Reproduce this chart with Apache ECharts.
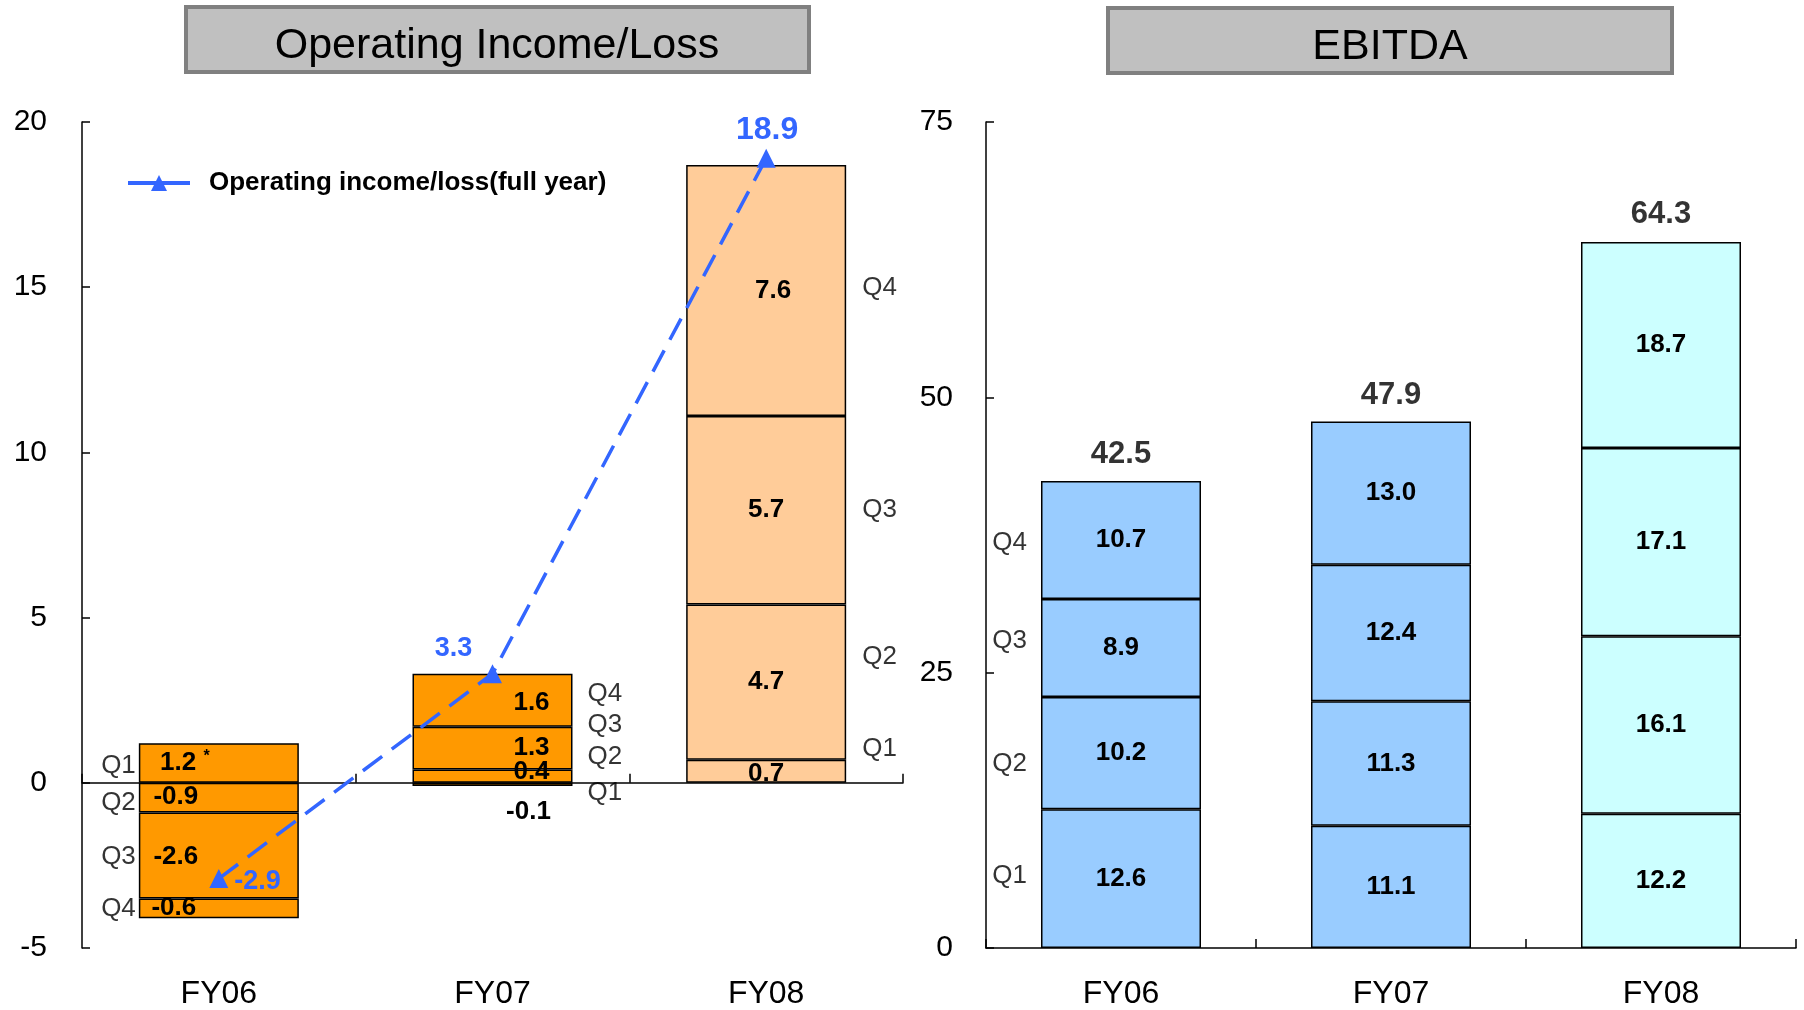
<!DOCTYPE html>
<html>
<head>
<meta charset="utf-8">
<title>Operating Income/Loss and EBITDA</title>
<script src="https://cdn.jsdelivr.net/npm/echarts@6/dist/echarts.min.js"></script>
<style>
  html, body { margin: 0; padding: 0; background: #ffffff; }
  #chart { width: 1804px; height: 1010px; }
</style>
</head>
<body>
<div id="chart"></div>
<script>
// ---- data ----
const years = ['FY06', 'FY07', 'FY08'];
const quarters = ['Q1', 'Q2', 'Q3', 'Q4'];

// Operating income/loss per quarter
const opQ1 = [1.2, -0.1, 0.7];
const opQ2 = [-0.9, 0.4, 4.7];
const opQ3 = [-2.6, 1.3, 5.7];
const opQ4 = [-0.6, 1.6, 7.6];
const opFullYear = [-2.9, 3.3, 18.9];

// EBITDA per quarter
const ebQ1 = [12.6, 11.1, 12.2];
const ebQ2 = [10.2, 11.3, 16.1];
const ebQ3 = [8.9, 12.4, 17.1];
const ebQ4 = [10.7, 13.0, 18.7];
const ebTotal = [42.5, 47.9, 64.3];

// axis scales
const opAxis = { min: -5, max: 20, interval: 5 };
const ebAxis = { min: 0, max: 75, interval: 25 };

// ---- styling ----
const FONT = '"Liberation Sans", Arial, Helvetica, sans-serif';
const opColors = ['#FF9900', '#FF9900', '#FFCC99'];
const ebColors = ['#99CCFF', '#99CCFF', '#CCFFFF'];
const lineBlue = '#3366FF';

// pixel nudges for the value labels inside the operating bars [dx, dy] by quarter, then year
const opLabelNudge = [
  [[-34, 0], [36, 27], [0, 3]],
  [[-43, -1], [39, -4], [0, 0]],
  [[-43, 1], [39, 0], [0, 0]],
  [[-45, -1], [39, 3], [7, 0]]
];
// vertical nudges for the quarter name tags, by year then quarter
const opTagNudge = [[3, 5, 1, 0], [8, -19, -23, -6], [-22, -25, 0, -3]];
const ebTagNudge = [-3, 11, -7, 3];
const opTagSide = ['left', 'right', 'right'];
const opTagDist = [83, 95, 96];

// placement of the full-year value tags
const fullYearLabelStyle = [
  { position: 'right', distance: 6, offset: [0, 3], fontSize: 27 },
  { position: 'top', distance: 2, offset: [-39, 0], fontSize: 27 },
  { position: 'top', distance: 3, offset: [1, 0], fontSize: 32 }
];

// mid-point of every stacked segment, stacking positives and negatives apart
function stackMids(list) {
  const pos = years.map(() => 0), neg = years.map(() => 0);
  return list.map(vals => vals.map((v, i) => {
    let lo, hi;
    if (v >= 0) { lo = pos[i]; hi = lo + v; pos[i] = hi; }
    else { hi = neg[i]; lo = hi + v; neg[i] = lo; }
    return (lo + hi) / 2;
  }));
}

const opSeriesVals = [opQ1, opQ2, opQ3, opQ4];
const ebSeriesVals = [ebQ1, ebQ2, ebQ3, ebQ4];
const opMids = stackMids(opSeriesVals);
const ebMids = stackMids(ebSeriesVals);

const fmt1 = v => Number(v).toFixed(1);

const series = [];

// operating income/loss stacked bars
opSeriesVals.forEach((vals, q) => {
  series.push({
    type: 'bar',
    name: quarters[q] + ' op',
    stack: 'op',
    xAxisIndex: 0,
    yAxisIndex: 0,
    barWidth: 160,
    data: vals.map((v, i) => ({
      value: v,
      itemStyle: { color: opColors[i] },
      label: {
        offset: opLabelNudge[q][i],
        formatter: (q === 0 && i === 0) ? (p => fmt1(p.value) + ' {s|*}') : (p => fmt1(p.value))
      }
    })),
    itemStyle: { borderColor: '#000', borderWidth: 1.5 },
    label: {
      show: true,
      position: 'inside',
      color: '#000',
      fontFamily: FONT,
      fontSize: 26,
      fontWeight: 'bold',
      rich: { s: { fontSize: 16, fontFamily: FONT, color: '#000', verticalAlign: 'top', padding: [0, 0, 12, 0] } }
    },
    emphasis: { disabled: true },
    z: 2
  });
});

// full-year line
series.push({
  type: 'line',
  name: 'Operating income/loss(full year)',
  xAxisIndex: 0,
  yAxisIndex: 0,
  data: opFullYear.map((v, i) => ({ value: v, label: fullYearLabelStyle[i] })),
  symbol: 'triangle',
  symbolSize: 19,
  itemStyle: { color: lineBlue },
  lineStyle: { color: lineBlue, width: 3.5, type: [24, 12] },
  label: {
    show: true,
    color: lineBlue,
    fontFamily: FONT,
    fontSize: 32,
    fontWeight: 'bold',
    formatter: p => fmt1(p.value)
  },
  emphasis: { disabled: true },
  z: 5
});

// quarter tags beside the operating bars
const opTagData = [];
years.forEach((y, i) => {
  quarters.forEach((qn, q) => {
    opTagData.push({
      value: [i, opMids[q][i]],
      name: qn,
      label: { position: opTagSide[i], distance: opTagDist[i], offset: [0, opTagNudge[i][q]] }
    });
  });
});
series.push({
  type: 'scatter',
  xAxisIndex: 0,
  yAxisIndex: 0,
  symbolSize: 0,
  itemStyle: { color: 'transparent' },
  data: opTagData,
  label: { show: true, formatter: p => p.name, color: '#000', fontFamily: FONT, fontSize: 26 },
  emphasis: { disabled: true },
  z: 6
});

// EBITDA stacked bars
ebSeriesVals.forEach((vals, q) => {
  series.push({
    type: 'bar',
    name: quarters[q] + ' ebitda',
    stack: 'eb',
    xAxisIndex: 2,
    yAxisIndex: 1,
    barWidth: 160,
    data: vals.map((v, i) => ({ value: v, itemStyle: { color: ebColors[i] } })),
    itemStyle: { borderColor: '#000', borderWidth: 1.5 },
    label: {
      show: true,
      position: 'inside',
      color: '#000',
      fontFamily: FONT,
      fontSize: 26,
      fontWeight: 'bold',
      formatter: p => fmt1(p.value)
    },
    emphasis: { disabled: true }
  });
});

// EBITDA yearly totals above the bars
series.push({
  type: 'scatter',
  xAxisIndex: 2,
  yAxisIndex: 1,
  symbolSize: 0,
  itemStyle: { color: 'transparent' },
  data: ebTotal,
  label: {
    show: true,
    position: 'top',
    distance: 10,
    color: '#000',
    fontFamily: FONT,
    fontSize: 31,
    fontWeight: 'bold',
    formatter: p => fmt1(p.value)
  },
  emphasis: { disabled: true },
  z: 6
});

// quarter tags left of the FY06 EBITDA bar
series.push({
  type: 'scatter',
  xAxisIndex: 2,
  yAxisIndex: 1,
  symbolSize: 0,
  itemStyle: { color: 'transparent' },
  data: quarters.map((qn, q) => ({
    value: [0, ebMids[q][0]],
    name: qn,
    label: { position: 'left', distance: 94, offset: [0, ebTagNudge[q]] }
  })),
  label: { show: true, formatter: p => p.name, color: '#000', fontFamily: FONT, fontSize: 26 },
  emphasis: { disabled: true },
  z: 6
});

const axisLineStyle = { color: '#000', width: 1.5 };

const option = {
  animation: false,
  backgroundColor: '#ffffff',
  textStyle: { fontFamily: FONT },
  grid: [
    { left: 82, top: 122, width: 821, height: 826 },
    { left: 986, top: 122, width: 810, height: 826 }
  ],
  legend: {
    data: ['Operating income/loss(full year)'],
    left: 121,
    top: 165,
    itemWidth: 62,
    itemHeight: 20,
    selectedMode: false,
    lineStyle: { type: 'solid', width: 4 },
    textStyle: { fontFamily: FONT, fontSize: 26, fontWeight: 'bold', color: '#000', padding: [0, 0, 0, 14] }
  },
  xAxis: [
    { // category names under the operating chart
      gridIndex: 0, type: 'category', data: years, position: 'bottom',
      axisLine: { show: false, onZero: false },
      axisTick: { show: false },
      axisLabel: { color: '#000', fontFamily: FONT, fontSize: 32, margin: 30 }
    },
    { // zero line of the operating chart
      gridIndex: 0, type: 'category', data: years, position: 'bottom',
      axisLine: { show: true, onZero: true, lineStyle: axisLineStyle },
      axisTick: { show: true, inside: true, length: 9, lineStyle: axisLineStyle },
      axisLabel: { show: false }
    },
    {
      gridIndex: 1, type: 'category', data: years, position: 'bottom',
      axisLine: { show: true, lineStyle: axisLineStyle },
      axisTick: { show: true, inside: true, length: 9, lineStyle: axisLineStyle },
      axisLabel: { color: '#000', fontFamily: FONT, fontSize: 32, margin: 30 }
    }
  ],
  yAxis: [
    {
      gridIndex: 0, type: 'value', min: opAxis.min, max: opAxis.max, interval: opAxis.interval,
      splitLine: { show: false },
      axisLine: { show: true, lineStyle: axisLineStyle },
      axisTick: { show: true, inside: true, length: 8, lineStyle: axisLineStyle },
      axisLabel: { color: '#000', fontFamily: FONT, fontSize: 30, margin: 35 }
    },
    {
      gridIndex: 1, type: 'value', min: ebAxis.min, max: ebAxis.max, interval: ebAxis.interval,
      splitLine: { show: false },
      axisLine: { show: true, lineStyle: axisLineStyle },
      axisTick: { show: true, inside: true, length: 8, lineStyle: axisLineStyle },
      axisLabel: { color: '#000', fontFamily: FONT, fontSize: 30, margin: 33 }
    }
  ],
  graphic: [
    {
      type: 'rect', shape: { x: 186, y: 7, width: 623, height: 65 },
      style: { fill: '#C0C0C0', stroke: '#808080', lineWidth: 4 }, z: 10
    },
    {
      type: 'text', x: 497, y: 46, z: 11,
      style: { text: 'Operating Income/Loss', fill: '#000', font: '43px ' + FONT,
               align: 'center', verticalAlign: 'middle', textAlign: 'center', textVerticalAlign: 'middle' }
    },
    {
      type: 'rect', shape: { x: 1108, y: 8, width: 564, height: 65 },
      style: { fill: '#C0C0C0', stroke: '#808080', lineWidth: 4 }, z: 10
    },
    {
      type: 'text', x: 1390, y: 47, z: 11,
      style: { text: 'EBITDA', fill: '#000', font: '43px ' + FONT,
               align: 'center', verticalAlign: 'middle', textAlign: 'center', textVerticalAlign: 'middle' }
    }
  ],
  series: series
};

const chart = echarts.init(document.getElementById('chart'), null, { renderer: 'canvas' });
chart.setOption(option);
</script>
</body>
</html>
